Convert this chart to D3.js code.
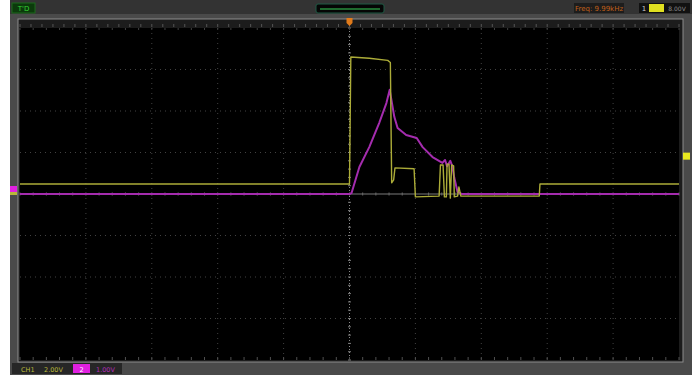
<!DOCTYPE html>
<html>
<head>
<meta charset="utf-8">
<script src="https://cdn.jsdelivr.net/npm/d3@7"></script>
<style>
  html, body { margin: 0; padding: 0; background: #ffffff; }
  svg { display: block; }
  text { font-family: "DejaVu Sans", sans-serif; }
</style>
</head>
<body>
<svg id="scope" width="699" height="375"></svg>
<script>
// Capture, in screen divisions: time relative to trigger, amplitude relative to centre line
const ch1Time  = [-5, 0, 0.02, 0.30, 0.58, 0.62, 0.64, 0.67, 0.69, 0.98, 1.00, 1.36, 1.38, 1.42, 1.44, 1.47, 1.48, 1.51, 1.53, 1.55, 1.58, 1.59, 1.64, 1.66, 1.69, 2.88, 2.89, 5];
const ch1Level = [0.24, 0.24, 3.30, 3.27, 3.22, 3.17, 0.27, 0.34, 0.63, 0.61, -0.07, -0.05, 0.70, 0.70, -0.07, -0.07, 0.72, 0.72, -0.10, 0.70, 0.68, -0.07, -0.05, 0.17, -0.05, -0.05, 0.24, 0.24];

const ch2Time  = [-5, 0, 0.03, 0.15, 0.30, 0.45, 0.56, 0.61, 0.68, 0.73, 0.86, 1.02, 1.11, 1.26, 1.41, 1.45, 1.48, 1.53, 1.56, 1.59, 1.64, 1.70, 5];
const ch2Level = [0, 0, 0.02, 0.65, 1.13, 1.71, 2.19, 2.51, 1.86, 1.59, 1.42, 1.35, 1.13, 0.89, 0.75, 0.82, 0.67, 0.80, 0.67, 0.39, 0.05, 0, 0];

const hDivs = [-5, -4, -3, -2, -1, 0, 1, 2, 3, 4, 5];
const vDivs = [-4, -3, -2, -1, 0, 1, 2, 3, 4];

const statusText = "T'D";
const freqText = "Freq: 9.99kHz";
const trigLabel = "1";
const trigLevel = "8.00V";
const ch1Scale = ["CH1", "2.00V"];
const ch2Scale = ["2", "1.00V"];

const svg = d3.select("#scope");
const plot = { left: 20, right: 679, top: 28, bottom: 360 };

const x = d3.scaleLinear().domain([-5, 5]).range([plot.left, plot.right]);
const y = d3.scaleLinear().domain([-4, 4]).range([plot.bottom, plot.top]);

// Instrument frame
svg.append("rect").attr("x", 10).attr("y", 0).attr("width", 682).attr("height", 375).attr("fill", "#4a4a4a");
svg.append("rect").attr("x", 10).attr("y", 0).attr("width", 682).attr("height", 14).attr("fill", "#333333");
svg.append("rect").attr("x", 18).attr("y", 19).attr("width", 665).attr("height", 343)
  .attr("fill", "#1c1c1c").attr("stroke", "#8c8c8c").attr("stroke-width", 1);
svg.append("rect").attr("x", plot.left).attr("y", plot.top)
  .attr("width", plot.right - plot.left).attr("height", plot.bottom - plot.top).attr("fill", "#000");

// Memory ruler ticks above the screen
const ruler = d3.range(0, 61).map(i => plot.left + i * (plot.right - plot.left) / 60);
svg.append("g").selectAll("line").data(ruler).join("line")
  .attr("x1", d => d).attr("x2", d => d).attr("y1", 24).attr("y2", 27)
  .attr("stroke", "#555555").attr("stroke-width", 1);

// Graticule: dotted division lines
const grid = svg.append("g");
grid.selectAll("line.v").data(hDivs.filter(d => d !== 0 && Math.abs(d) !== 5)).join("line")
  .attr("x1", d => x(d)).attr("x2", d => x(d)).attr("y1", plot.top).attr("y2", plot.bottom)
  .attr("stroke", "#424242").attr("stroke-width", 1).attr("stroke-dasharray", "1,4");
grid.selectAll("line.h").data(vDivs.filter(d => d !== 0 && Math.abs(d) !== 4)).join("line")
  .attr("x1", plot.left).attr("x2", plot.right).attr("y1", d => y(d)).attr("y2", d => y(d))
  .attr("stroke", "#424242").attr("stroke-width", 1).attr("stroke-dasharray", "1,4");

// Centre axes with fine ticks
grid.append("line").attr("x1", plot.left).attr("x2", plot.right).attr("y1", y(0)).attr("y2", y(0))
  .attr("stroke", "#7a7a7a").attr("stroke-width", 1);
grid.append("line").attr("x1", x(0)).attr("x2", x(0)).attr("y1", plot.top).attr("y2", plot.bottom)
  .attr("stroke", "#8a8a8a").attr("stroke-width", 1).attr("stroke-dasharray", "1,2");
const xMinor = d3.range(-25, 26).map(i => i / 5);
grid.selectAll("line.xt").data(xMinor).join("line")
  .attr("x1", d => x(d)).attr("x2", d => x(d)).attr("y1", y(0) - 1.5).attr("y2", y(0) + 1.5)
  .attr("stroke", "#6a6a6a").attr("stroke-width", 1);
const yMinor = d3.range(-20, 21).map(i => i / 5);
grid.selectAll("line.yt").data(yMinor).join("line")
  .attr("x1", x(0) - 1.5).attr("x2", x(0) + 1.5).attr("y1", d => y(d)).attr("y2", d => y(d))
  .attr("stroke", "#7a7a7a").attr("stroke-width", 1);
// Edge ticks along the screen border
grid.selectAll("line.bt").data(xMinor).join("line")
  .attr("x1", d => x(d)).attr("x2", d => x(d)).attr("y1", plot.bottom - 3).attr("y2", plot.bottom)
  .attr("stroke", "#505050");
grid.selectAll("line.tt").data(xMinor).join("line")
  .attr("x1", d => x(d)).attr("x2", d => x(d)).attr("y1", plot.top).attr("y2", plot.top + 2)
  .attr("stroke", "#404040");

// Traces
const line = d3.line().x(d => x(d[0])).y(d => y(d[1]));
const ch2 = ch2Time.map((t, i) => [t, ch2Level[i]]);
const ch1 = ch1Time.map((t, i) => [t, ch1Level[i]]);
svg.append("path").datum(ch2).attr("d", line).attr("fill", "none")
  .attr("stroke", "#a42cae").attr("stroke-width", 2).attr("stroke-linejoin", "round");
svg.append("path").datum(ch1).attr("d", line).attr("fill", "none")
  .attr("stroke", "#acac38").attr("stroke-width", 1.4).attr("stroke-linejoin", "round");

// Trigger position marker
svg.append("path").attr("d", `M${x(0) - 3},18 h6 v5 l-3,3 l-3,-3 z`).attr("fill", "#e07a1a");

// Channel ground markers on the left, trigger level on the right
svg.append("rect").attr("x", 10).attr("y", y(0) - 8).attr("width", 7).attr("height", 6).attr("fill", "#e020e0");
svg.append("rect").attr("x", 10).attr("y", y(0) - 2).attr("width", 7).attr("height", 3).attr("fill", "#b8b83a");
svg.append("rect").attr("x", 683).attr("y", y(0.9) - 4).attr("width", 7).attr("height", 7).attr("fill", "#e8e820");

// Status bar: run state
svg.append("rect").attr("x", 12).attr("y", 3).attr("width", 23).attr("height", 10).attr("fill", "#0b3a0b").attr("stroke", "#1c6a1c");
svg.append("text").attr("x", 23.5).attr("y", 11).attr("text-anchor", "middle")
  .attr("font-size", 7).attr("fill", "#36d036").text(statusText);

// Status bar: memory window
svg.append("rect").attr("x", 316).attr("y", 4).attr("width", 68).attr("height", 9).attr("rx", 2)
  .attr("fill", "#050505").attr("stroke", "#1f5a45");
svg.append("line").attr("x1", 320).attr("x2", 380).attr("y1", 9).attr("y2", 9).attr("stroke", "#1e6a2e").attr("stroke-width", 2);

// Status bar: frequency readout and trigger source
svg.append("rect").attr("x", 574).attr("y", 3).attr("width", 50).attr("height", 10).attr("fill", "#1d1d1d");
svg.append("text").attr("x", 599).attr("y", 11).attr("text-anchor", "middle")
  .attr("font-size", 7).attr("fill", "#c0601a").text(freqText);
svg.append("rect").attr("x", 639).attr("y", 3).attr("width", 51).attr("height", 10).attr("fill", "#111");
svg.append("text").attr("x", 644).attr("y", 11).attr("text-anchor", "middle")
  .attr("font-size", 7).attr("fill", "#cccccc").text(trigLabel);
svg.append("rect").attr("x", 649).attr("y", 4).attr("width", 15).attr("height", 8).attr("fill", "#e0e020");
svg.append("text").attr("x", 677).attr("y", 11).attr("text-anchor", "middle")
  .attr("font-size", 6).attr("fill", "#8a8a8a").text(trigLevel);

// Bottom bar: channel scales
svg.append("rect").attr("x", 12).attr("y", 363).attr("width", 110).attr("height", 11).attr("fill", "#262626");
svg.append("text").attr("x", 21).attr("y", 371.5).attr("font-size", 6.5).attr("fill", "#b8b83a").text(ch1Scale[0]);
svg.append("text").attr("x", 44).attr("y", 371.5).attr("font-size", 6.5).attr("fill", "#b8b83a").text(ch1Scale[1]);
svg.append("rect").attr("x", 73).attr("y", 364).attr("width", 17).attr("height", 9).attr("fill", "#e020e0");
svg.append("text").attr("x", 81.5).attr("y", 371.5).attr("text-anchor", "middle").attr("font-size", 6.5).attr("fill", "#ffffff").text(ch2Scale[0]);
svg.append("text").attr("x", 96).attr("y", 371.5).attr("font-size", 6.5).attr("fill", "#b02cb8").text(ch2Scale[1]);
</script>
</body>
</html>
